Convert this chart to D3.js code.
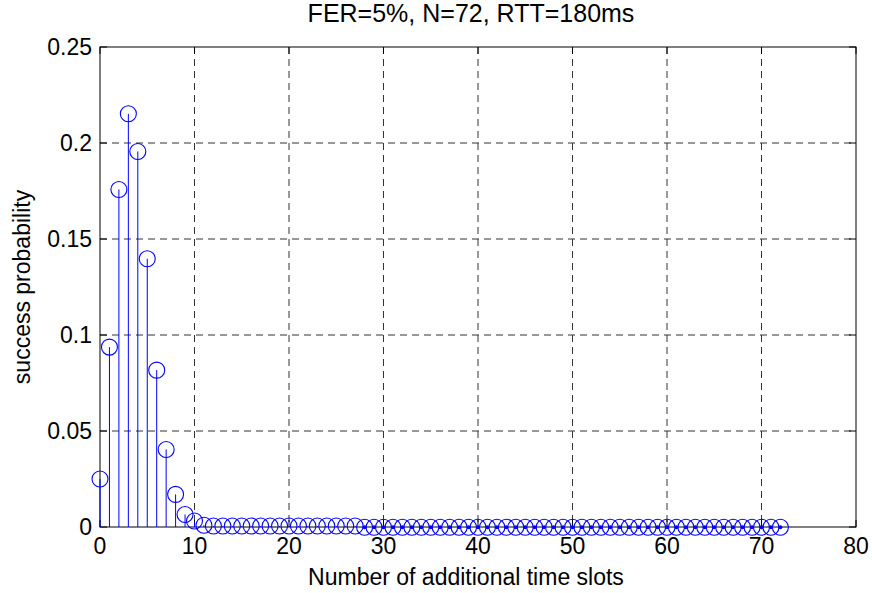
<!DOCTYPE html>
<html><head><meta charset="utf-8">
<script src="https://cdn.jsdelivr.net/npm/d3@7"></script>
<style>body{margin:0;background:#fff;} text{font-family:"Liberation Sans",Arial,sans-serif;}</style>
</head><body>
<svg id="c" width="872" height="593"></svg>
<script>
const title = "FER=5%, N=72, RTT=180ms";
const xLabel = "Number of additional time slots";
const yLabel = "success probability";
const xTicks = [0,10,20,30,40,50,60,70,80];
const yTicks = [0,0.05,0.1,0.15,0.2,0.25];
const yTickLabels = ["0","0.05","0.1","0.15","0.2","0.25"];
const slots = d3.range(0,73);
const probHead = [0.025,0.0937,0.1758,0.2152,0.1956,0.1397,0.0817,0.0404,0.0170,0.0065,0.0031,0.0009];
const probMid = [0.0005,0.0005,0.0005,0.0005,0.0005,0.0005,0.0005,0.0005,0.0005,0.0005,0.0005,0.0005,0.0005,0.0005,0.0005,0.0005];
const probTail = new Array(73-28).fill(-0.0001);
const prob = probHead.concat(probMid, probTail);

const svg = d3.select("#c");
const L=100,R=856,T=47,B=527;
const x = d3.scaleLinear().domain([0,80]).range([L,R]);
const y = d3.scaleLinear().domain([0,0.25]).range([B,T]);

// grid
const g = svg.append("g");
g.selectAll(".gx").data(xTicks.slice(1,-1)).enter().append("line")
 .attr("x1",d=>x(d)).attr("x2",d=>x(d)).attr("y1",T).attr("y2",B)
 .attr("stroke","#333").attr("stroke-dasharray","7,5").attr("stroke-width",1);
g.selectAll(".gy").data(yTicks.slice(1,-1)).enter().append("line")
 .attr("y1",d=>y(d)).attr("y2",d=>y(d)).attr("x1",L).attr("x2",R)
 .attr("stroke","#333").attr("stroke-dasharray","7,5").attr("stroke-width",1);

// ticks (inward) on all sides
const tl=7;
svg.append("g").selectAll("line").data(xTicks).enter().append("line")
 .attr("x1",d=>x(d)).attr("x2",d=>x(d)).attr("y1",B).attr("y2",B-tl).attr("stroke","#000");
svg.append("g").selectAll("line").data(xTicks).enter().append("line")
 .attr("x1",d=>x(d)).attr("x2",d=>x(d)).attr("y1",T).attr("y2",T+tl).attr("stroke","#000");
svg.append("g").selectAll("line").data(yTicks).enter().append("line")
 .attr("y1",d=>y(d)).attr("y2",d=>y(d)).attr("x1",L).attr("x2",L+tl).attr("stroke","#000");
svg.append("g").selectAll("line").data(yTicks).enter().append("line")
 .attr("y1",d=>y(d)).attr("y2",d=>y(d)).attr("x1",R).attr("x2",R-tl).attr("stroke","#000");

// box
svg.append("rect").attr("x",L).attr("y",T).attr("width",R-L).attr("height",B-T)
 .attr("fill","none").attr("stroke","#000").attr("stroke-width",1);

// stems
const data = slots.map((s,i)=>({s, p:prob[i]}));
svg.append("g").selectAll("line").data(data).enter().append("line")
 .attr("x1",d=>x(d.s)).attr("x2",d=>x(d.s)).attr("y1",y(0)).attr("y2",d=>y(d.p))
 .attr("stroke","#0000ff").attr("stroke-width",1);
svg.append("g").selectAll("circle").data(data.filter(d=>d.p<=0)).enter().append("circle")
 .attr("cx",d=>x(d.s)).attr("cy",d=>y(d.p)).attr("r",2).attr("fill","#0000ff");
svg.append("g").selectAll("circle").data(data).enter().append("circle")
 .attr("cx",d=>x(d.s)).attr("cy",d=>y(d.p)).attr("r",8)
 .attr("fill","none").attr("stroke","#0000ff").attr("stroke-width",1.1);

// tick labels
svg.append("g").selectAll("text").data(xTicks).enter().append("text")
 .attr("x",d=>x(d)).attr("y",B+27).attr("text-anchor","middle").attr("font-size",23)
 .text(d=>d);
svg.append("g").selectAll("text").data(yTicks).enter().append("text")
 .attr("x",L-8).attr("y",d=>y(d)+8).attr("text-anchor","end").attr("font-size",23)
 .text((d,i)=>yTickLabels[i]);

svg.append("text").attr("x",(L+R)/2-7).attr("y",22).attr("text-anchor","middle").attr("font-size",25).text(title);
svg.append("text").attr("x",(L+R)/2-12).attr("y",585).attr("text-anchor","middle").attr("font-size",23).text(xLabel);
svg.append("text").attr("transform",`translate(30,${(T+B)/2}) rotate(-90)`).attr("text-anchor","middle").attr("font-size",23).text(yLabel);
</script>
</body></html>
